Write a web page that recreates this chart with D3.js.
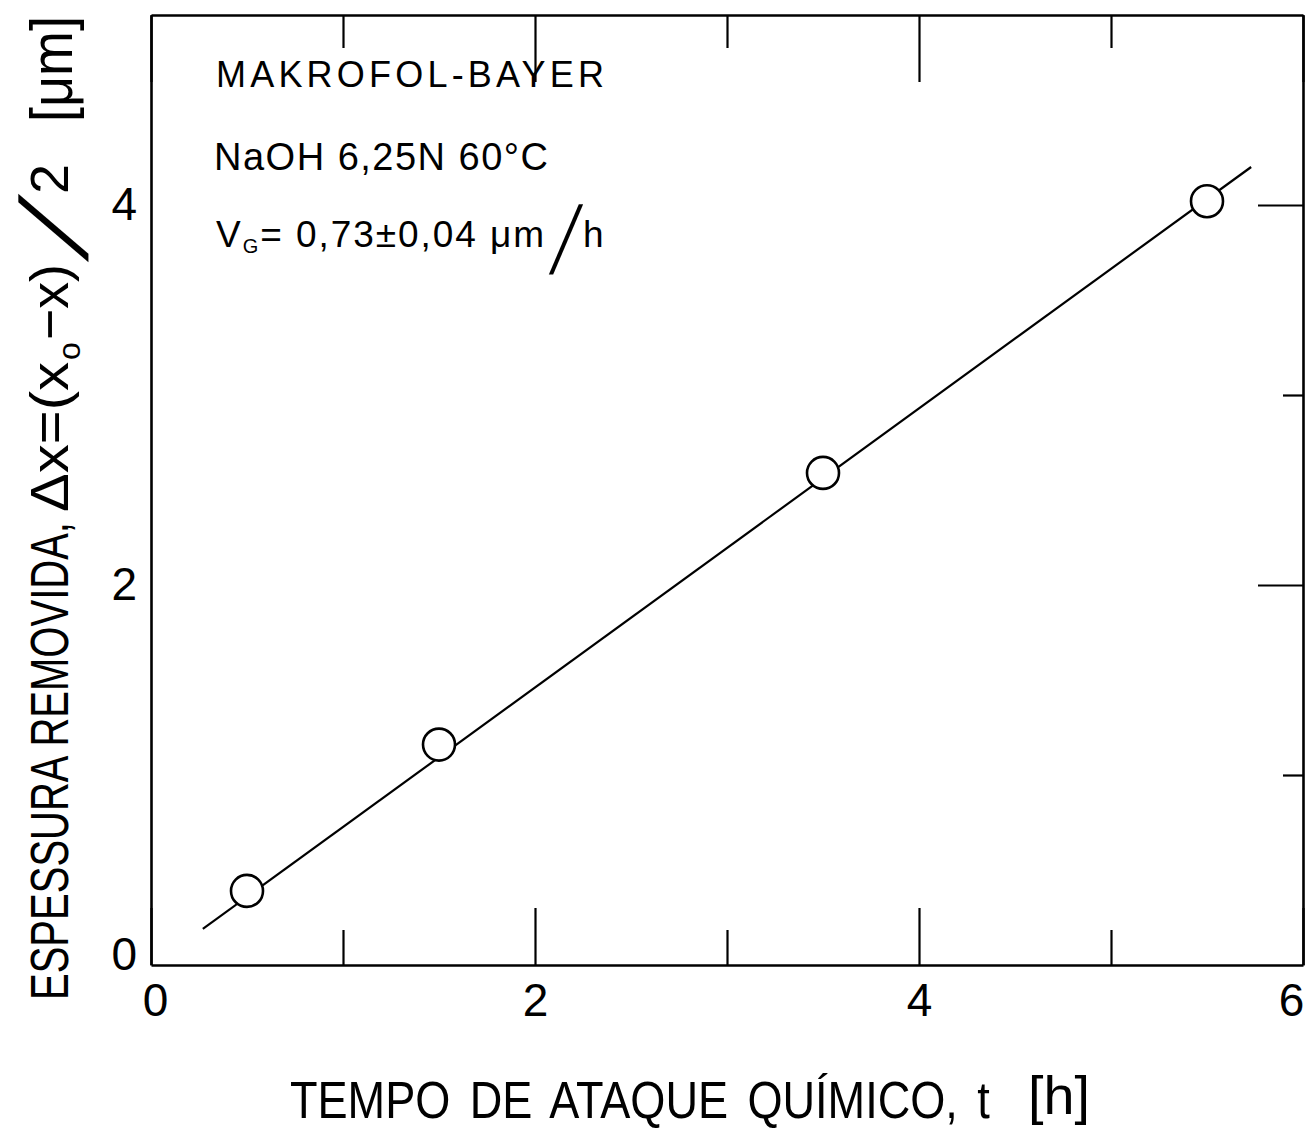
<!DOCTYPE html>
<html><head><meta charset="utf-8">
<script src="https://cdn.jsdelivr.net/npm/d3@7"></script>
<style>
  body { margin: 0; background: #fff; }
  text { font-family: "Liberation Sans", "DejaVu Sans", sans-serif; fill: #000; }
</style>
</head><body>
<svg id="chart" width="1312" height="1129"></svg>
<script>
// Measured thickness removed vs. etching time
const etchTime = [0.5, 1.5, 3.5, 5.5];
const removedThickness = [0.39, 1.16, 2.59, 4.02];
// Fitted straight line (bulk etch rate)
const fitTime = [0.27, 5.73];
const fitThickness = [0.19, 4.20];
// Axis ticks
const xMajorTicks = [0, 2, 4, 6];
const xMinorTicks = [1, 3, 5];
const yMajorTicks = [0, 2, 4];
const yMinorTicks = [1, 3];
const xTickLabels = ["0", "2", "4", "6"];
const yTickLabels = ["0", "2", "4"];

const svg = d3.select("#chart");
const frame = { left: 151, right: 1303, top: 15, bottom: 965 };

const x = d3.scaleLinear().domain([0, 6]).range([frame.left, frame.right]);
const y = d3.scaleLinear().domain([0, 5]).range([frame.bottom, frame.top]);

function styleAxis(g, width) {
  g.selectAll("path.domain").attr("stroke", "#000").attr("stroke-width", width);
  g.selectAll(".tick line").attr("stroke", "#000").attr("stroke-width", 2.2);
  g.selectAll(".tick text")
    .attr("font-family", "Liberation Sans, DejaVu Sans, sans-serif")
    .attr("font-size", 46).attr("fill", "#000");
}

// Squeeze or stretch a text horizontally (in its own frame) to a given width
function fitWidth(sel, width) {
  const w = sel.node().getComputedTextLength();
  const x0 = +sel.attr("x"), y0 = +sel.attr("y");
  const s = width / w;
  sel.attr("transform", `translate(${x0},${y0}) scale(${s},1) translate(${-x0},${-y0})`);
  return sel;
}

// Bottom axis: labelled major ticks + shorter minor ticks, pointing inward
svg.append("g").attr("transform", `translate(0,${frame.bottom})`)
  .call(d3.axisBottom(x).tickValues(xMajorTicks).tickSize(-57).tickSizeOuter(0)
    .tickPadding(18).tickFormat((d, i) => xTickLabels[i]))
  .call(g => styleAxis(g, 2.6))
  .call(g => g.selectAll(".tick text").attr("dx", d => d === 6 ? -12 : (d === 0 ? 4 : 0)));
svg.append("g").attr("transform", `translate(0,${frame.bottom})`)
  .call(d3.axisBottom(x).tickValues(xMinorTicks).tickSize(-35).tickSizeOuter(0).tickFormat(""))
  .call(g => { styleAxis(g, 0); g.select("path.domain").remove(); });

// Top axis
svg.append("g").attr("transform", `translate(0,${frame.top})`)
  .call(d3.axisTop(x).tickValues(xMajorTicks).tickSize(-67).tickSizeOuter(0).tickFormat(""))
  .call(g => styleAxis(g, 2.6));
svg.append("g").attr("transform", `translate(0,${frame.top})`)
  .call(d3.axisTop(x).tickValues(xMinorTicks).tickSize(-33).tickSizeOuter(0).tickFormat(""))
  .call(g => { styleAxis(g, 0); g.select("path.domain").remove(); });

// Left axis: labels only
svg.append("g").attr("transform", `translate(${frame.left},0)`)
  .call(d3.axisLeft(y).tickValues(yMajorTicks).tickSize(0).tickSizeOuter(0)
    .tickPadding(14).tickFormat((d, i) => yTickLabels[i]))
  .call(g => styleAxis(g, 2.6))
  .call(g => g.selectAll(".tick text").attr("dy", d => d === 0 ? "0.1em" : "0.32em"));

// Right axis: inward ticks
svg.append("g").attr("transform", `translate(${frame.right},0)`)
  .call(d3.axisRight(y).tickValues(yMajorTicks.filter(d => d > 0)).tickSize(-45).tickSizeOuter(0).tickFormat(""))
  .call(g => styleAxis(g, 2.6));
svg.append("g").attr("transform", `translate(${frame.right},0)`)
  .call(d3.axisRight(y).tickValues(yMinorTicks).tickSize(-20).tickSizeOuter(0).tickFormat(""))
  .call(g => { styleAxis(g, 0); g.select("path.domain").remove(); });

// Fitted line
const line = d3.line().x(d => x(d[0])).y(d => y(d[1]));
svg.append("path")
  .datum(d3.zip(fitTime, fitThickness))
  .attr("d", line)
  .attr("fill", "none").attr("stroke", "#000").attr("stroke-width", 2.2);

// Data points: open circles
svg.append("g").selectAll("circle")
  .data(d3.zip(etchTime, removedThickness))
  .join("circle")
  .attr("cx", d => x(d[0])).attr("cy", d => y(d[1])).attr("r", 16)
  .attr("fill", "#fff").attr("stroke", "#000").attr("stroke-width", 2.6);

// Annotation block
svg.append("text").attr("x", 216).attr("y", 87)
  .attr("font-size", 36).attr("textLength", 388).attr("lengthAdjust", "spacing")
  .text("MAKROFOL-BAYER");
svg.append("text").attr("x", 214).attr("y", 170)
  .attr("font-size", 38).attr("textLength", 334).attr("lengthAdjust", "spacing")
  .text("NaOH 6,25N 60°C");
const vg = svg.append("text").attr("x", 216).attr("y", 247).attr("font-size", 37)
  .attr("textLength", 328).attr("lengthAdjust", "spacing");
vg.append("tspan").text("V");
vg.append("tspan").attr("font-size", 20).attr("dy", 6).text("G");
vg.append("tspan").attr("dy", -6).text("= 0,73±0,04 μm");
fitWidth(svg.append("text").attr("x", 551).attr("y", 260)
  .style("font-family", "DejaVu Sans").attr("font-size", 60).text("╱"), 30);
svg.append("text").attr("x", 583).attr("y", 247).attr("font-size", 37).text("h");

// X axis title
fitWidth(svg.append("text").attr("x", 290).attr("y", 1118).attr("font-size", 52)
  .attr("word-spacing", 8).text("TEMPO DE ATAQUE QUÍMICO, t"), 700);
fitWidth(svg.append("text").attr("x", 1028).attr("y", 1114).attr("font-size", 54)
  .text("[h]"), 62);

// Y axis title, reading bottom to top
const yt = svg.append("g").attr("transform", "translate(68,0) rotate(-90)");
fitWidth(yt.append("text").attr("x", -1000).attr("y", 0).attr("font-size", 54)
  .text("ESPESSURA REMOVIDA,"), 478);
fitWidth(yt.append("text").attr("x", -512).attr("y", 0).attr("font-size", 54)
  .text("Δx=(x"), 150);
yt.append("text").attr("x", -360).attr("y", 12).attr("font-size", 32).text("o");
fitWidth(yt.append("text").attr("x", -340).attr("y", 0).attr("font-size", 54)
  .text("−x)"), 76);
fitWidth(yt.append("text").attr("x", -258).attr("y", 6)
  .style("font-family", "DejaVu Sans").attr("font-size", 60).text("╱"), 60);
yt.append("text").attr("x", -194).attr("y", 0).attr("font-size", 54).text("2");
fitWidth(yt.append("text").attr("x", -122).attr("y", 4).attr("font-size", 60)
  .text("[μm]"), 106);
</script>
</body></html>
